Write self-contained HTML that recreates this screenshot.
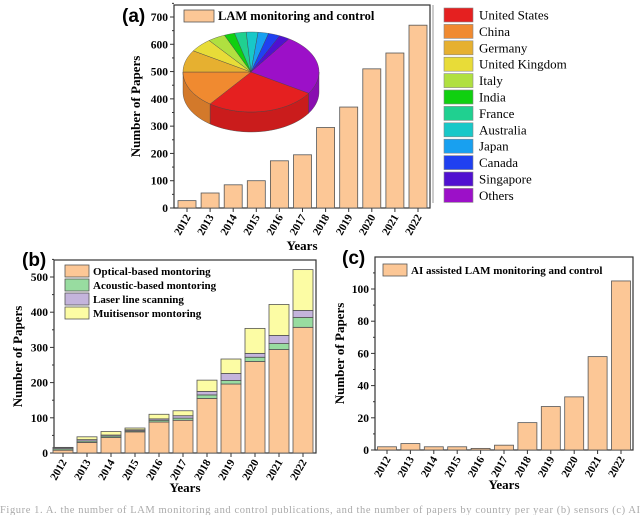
<!DOCTYPE html>
<html><head><meta charset="utf-8"><style>
html,body{margin:0;padding:0;background:#fff;width:640px;height:515px;overflow:hidden}
svg{display:block;font-family:"Liberation Serif",serif}
</style></head><body>
<svg id="fig" width="640" height="515" viewBox="0 0 640 515">
<text x="0" y="513" font-size="10.5" fill="#aaa" textLength="640">Figure 1. A. the number of LAM monitoring and control publications, and the number of papers by country per year (b) sensors (c) AI</text>
</svg>
<script>
const years = ["2012","2013","2014","2015","2016","2017","2018","2019","2020","2021","2022"];
const aValues = [27,55,85,100,173,195,295,370,510,568,670];
const aTicks = [0,100,200,300,400,500,600,700];
const countries = ["United States","China","Germany","United Kingdom","Italy","India","France","Australia","Japan","Canada","Singapore","Others"];
const countryShares = [95,53,32,20,15,9,10,10,9,10,9,88];
const countryColors = ["#e52020","#f08a30","#e6b030","#e8dc38","#b0e040","#10d010","#20d090","#18c8c8","#18a0f0","#2040f0","#5010d0","#9c10c8"];
const bOptical = [8,30,44,60,88,93,155,196,260,294,357];
const bAcoustic = [4,4,4,3,5,6,10,10,12,17,28];
const bLaser = [3,4,3,3,4,7,10,20,11,23,20];
const bMulti = [1,8,10,5,13,14,32,41,71,88,116];
const bTicks = [0,100,200,300,400,500];
const cValues = [2,4,2,2,1,3,17,27,33,58,105];
const cTicks = [0,20,40,60,80,100];

const NS="http://www.w3.org/2000/svg";
const svg=document.getElementById('fig');
function el(tag,attrs,parent,text){const e=document.createElementNS(NS,tag);for(const k in attrs)e.setAttribute(k,attrs[k]);if(text!==undefined)e.textContent=text;(parent||svg).appendChild(e);return e;}
const BAR="#fcc796", EDGE="#555";

function panel(o){
  const g=el('g',{});
  
  
  const y=v=>o.y0-(v/o.ymax)*(o.y0-o.yTopVal);
  const x=i=>o.x0c+i*o.dx;
  const fr=el('rect',{x:o.L,y:o.T,width:o.R-o.L,height:o.y0-o.T,fill:'none',stroke:'#333','stroke-width':1.2},g);
  
  o.ticks.forEach(t=>{
    el('line',{x1:o.L-4,x2:o.L,y1:y(t),y2:y(t),stroke:'#333'},g);
    if(o.minor){el('line',{x1:o.L-2,x2:o.L,y1:y(t+o.minor),y2:y(t+o.minor),stroke:'#333'},g);}
    const tl=el('text',{x:o.L-6,y:y(t)+4,'font-size':11.5,'font-weight':'bold','text-anchor':'end'},g,String(t));
    
  });
  years.forEach((yr,i)=>{
    el('line',{x1:x(i),x2:x(i),y1:o.y0,y2:o.y0+4,stroke:'#333'},g);
    const tl=el('text',{x:0,y:0,'font-size':11,'font-weight':'bold','text-anchor':'end',transform:`translate(${x(i)+4},${o.y0+9}) rotate(-60)`},g,yr);
    
  });
  o.series.forEach((s,si)=>{
    let base=o.series.slice(0,si);
    s.vals.forEach((v,i)=>{
      const b0=base.reduce((a,ss)=>a+ss.vals[i],0);
      const r=el('rect',{x:x(i)-o.bw/2,y:y(b0+v),width:o.bw,height:y(b0)-y(b0+v),fill:s.color,stroke:EDGE,'stroke-width':0.8},g);
      
      
    });
  });
  const yt=el('text',{x:0,y:0,'font-size':13,'font-weight':'bold','text-anchor':'middle',transform:`translate(${o.ylabX},${(o.T+o.y0)/2}) rotate(-90)`},g,'Number of Papers');
  
  const xt=el('text',{x:(o.L+o.R)/2,y:o.xlabY,'font-size':13,'font-weight':'bold','text-anchor':'middle'},g,'Years');
  
  const pl=el('text',{x:o.plX,y:o.plY,'font-size':19,'font-weight':'bold','font-family':'Liberation Sans, sans-serif'},g,o.letter);
  
  o.legend.forEach((lg,i)=>{
    const ly=o.legY+i*o.legDy;
    const sw=el('rect',{x:o.legX,y:ly-6,width:o.legW,height:12,fill:lg.color,stroke:EDGE,'stroke-width':0.8},g);
    
    const lt=el('text',{x:o.legX+o.legW+4,y:ly+4,'font-size':o.legFs,'font-weight':'bold'},g,lg.label);
    
  });
  return g;
}

panel({name:'panel-a',letter:'(a)',plX:122,plY:22,L:174,R:430,T:5,y0:208,yTopVal:17,ymax:700,x0c:187,dx:23.1,bw:18,
  ticks:aTicks,minor:50,ylabX:140,xlabY:250,
  series:[{key:'lam',vals:aValues,color:BAR}],
  legend:[{label:'LAM monitoring and control',color:BAR}],legX:184,legY:16,legDy:0,legW:30,legFs:12.5});

panel({name:'panel-b',letter:'(b)',plX:22,plY:266,L:54,R:316,T:260,y0:453,yTopVal:277,ymax:500,x0c:63,dx:24,bw:20,
  ticks:bTicks,minor:50,ylabX:22,xlabY:492,
  series:[{key:'optical',vals:bOptical,color:BAR},{key:'acoustic',vals:bAcoustic,color:'#98dca0'},{key:'laser',vals:bLaser,color:'#c4b4dc'},{key:'multi',vals:bMulti,color:'#fcfca4'}],
  legend:[{label:'Optical-based montoring',color:BAR},{label:'Acoustic-based montoring',color:'#98dca0'},{label:'Laser line scanning',color:'#c4b4dc'},{label:'Muitisensor montoring',color:'#fcfca4'}],
  legX:65,legY:271,legDy:14,legW:24,legFs:11});

panel({name:'panel-c',letter:'(c)',plX:342,plY:264,L:375,R:633,T:257,y0:450,yTopVal:289,ymax:100,x0c:387,dx:23.4,bw:19,
  ticks:cTicks,minor:10,ylabX:344,xlabY:489,
  series:[{key:'ai',vals:cValues,color:BAR}],
  legend:[{label:'AI assisted LAM monitoring and control',color:BAR}],legX:383,legY:270,legDy:0,legW:24,legFs:11});

(function(){
  const cx=251,cy=72,rx=68,ry=40,depth=20,start=32;
  const total=countryShares.reduce((a,b)=>a+b,0);
  const g=el('g',{});
  
  const pt=(a,dy)=>[cx+rx*Math.cos(a*Math.PI/180),cy+ry*Math.sin(a*Math.PI/180)+(dy||0)];
  function shade(hex,f){const n=parseInt(hex.slice(1),16);const r=Math.round(((n>>16)&255)*f),gg=Math.round(((n>>8)&255)*f),b=Math.round((n&255)*f);return `rgb(${r},${gg},${b})`;}
  let a=start;const slices=[];
  countryShares.forEach((v,i)=>{const a2=a+v/total*360;slices.push([a,a2,i]);a=a2;});
  slices.forEach(([a1,a2,i])=>{
    const segs=[[a1,a2],[a1-360,a2-360]];
    segs.forEach(([s,e])=>{
      const s2=Math.max(s,0),e2=Math.min(e,180);
      if(e2<=s2)return;
      let d='';const n=30;
      for(let k=0;k<=n;k++){const t=s2+(e2-s2)*k/n;const p=pt(t);d+=(k?'L':'M')+p[0]+' '+p[1];}
      for(let k=n;k>=0;k--){const t=s2+(e2-s2)*k/n;const p=pt(t,depth);d+='L'+p[0]+' '+p[1];}
      const s_=el('path',{d:d+'Z',fill:shade(countryColors[i],0.88),stroke:'#444','stroke-width':0.4},g);
      
    });
  });
  slices.forEach(([a1,a2,i])=>{
    const p1=pt(a1);let d=`M${cx} ${cy}L${p1[0]} ${p1[1]}`;const n=30;
    for(let k=1;k<=n;k++){const p=pt(a1+(a2-a1)*k/n);d+='L'+p[0]+' '+p[1];}
    const s_=el('path',{d:d+'Z',fill:countryColors[i],stroke:'#444','stroke-width':0.4},g);
    
  });
  const lg=el('g',{});
  
  el('line',{x1:433,x2:433,y1:5,y2:203,stroke:'#999'},lg);
  countries.forEach((c,i)=>{
    const ly=15+i*16.4;
    const sw=el('rect',{x:444,y:ly-7,width:29,height:14,fill:countryColors[i],stroke:'#888','stroke-width':0.6},lg);
    
    const t=el('text',{x:479,y:ly+4.5,'font-size':13},lg,c);
    
  });
})();
</script>
</body></html>
